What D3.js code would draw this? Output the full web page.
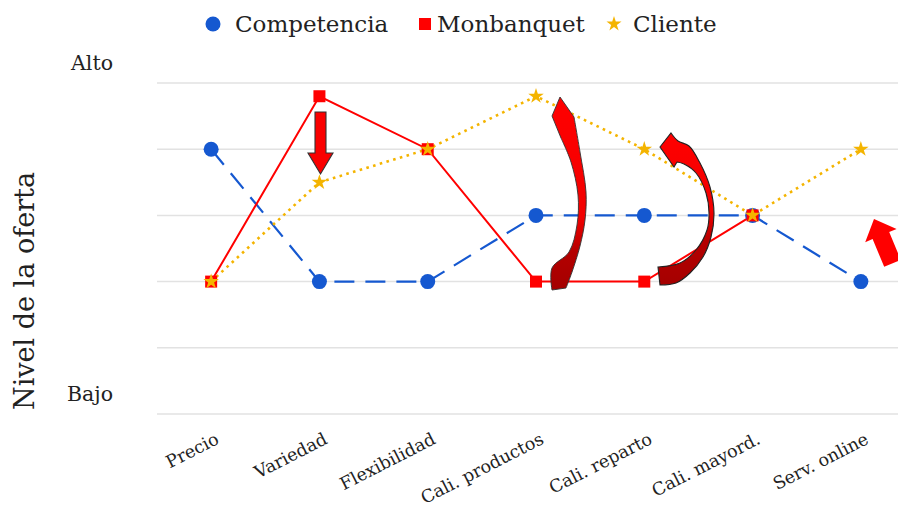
<!DOCTYPE html>
<html>
<head>
<meta charset="utf-8">
<script src="https://cdn.jsdelivr.net/npm/d3@7"></script>
<style>
  html, body { margin: 0; padding: 0; background: #fff; }
  svg { display: block; }
  text { font-family: "DejaVu Serif", serif; fill: #222; }
</style>
</head>
<body>
<svg id="chart" width="898" height="508"></svg>
<script>
// Categories along the x axis
const categories = ["Precio", "Variedad", "Flexibilidad", "Cali. productos", "Cali. reparto", "Cali. mayord.", "Serv. online"];

// Series values on a 0 (Bajo) .. 5 (Alto) scale
const competencia = [4, 2, 2, 3, 3, 3, 2];
const monbanquet  = [2, 4.8, 4, 2, 2, 3, null];
const cliente     = [2, 3.5, 4, 4.8, 4, 3, 4];

// Y tick values and their labels
const yTickValues = [0, 1, 2, 3, 4, 5];
const yTickLabels = ["Bajo", "", "", "", "", "Alto"];

const seriesNames = ["Competencia", "Monbanquet", "Cliente"];

const width = 898, height = 508;
const svg = d3.select("#chart");

const x = d3.scalePoint().domain(categories).range([157, 915]).padding(0.5);
const y = d3.scaleLinear().domain([0, 5]).range([414, 83]);

// Gridlines
svg.append("g").selectAll("line").data(yTickValues).join("line")
  .attr("x1", 157).attr("x2", width)
  .attr("y1", d => y(d)).attr("y2", d => y(d))
  .attr("stroke", "#e2e2e2").attr("stroke-width", 1.5);

// Y tick labels sit just above their gridline
svg.append("g").selectAll("text").data(yTickValues).join("text")
  .attr("x", 113).attr("y", d => y(d) - 13)
  .attr("text-anchor", "end")
  .attr("font-size", 20.5)
  .text((d, i) => yTickLabels[i]);

// Y axis title
svg.append("text")
  .attr("transform", "translate(34,291) rotate(-90)")
  .attr("text-anchor", "middle")
  .attr("font-size", 27)
  .attr("fill", "#111")
  .text("Nivel de la oferta");

// X labels, rotated
svg.append("g").selectAll("text").data(categories).join("text")
  .attr("transform", d => `translate(${x(d) + 9},443) rotate(-27)`)
  .attr("text-anchor", "end")
  .attr("font-size", 17.5)
  .attr("fill", "#333")
  .text(d => d);

const blue = "#1558d0", red = "#ff0000", gold = "#f4b400";

const line = d3.line()
  .defined(d => d.v != null)
  .x(d => x(d.c)).y(d => y(d.v));

function pts(arr) { return arr.map((v, i) => ({ c: categories[i], v })); }

// Competencia: dashed blue with circles
svg.append("path").datum(pts(competencia))
  .attr("d", line).attr("fill", "none")
  .attr("stroke", blue).attr("stroke-width", 2.2)
  .attr("stroke-dasharray", "20,11");

// Monbanquet: solid red with squares
svg.append("path").datum(pts(monbanquet))
  .attr("d", line).attr("fill", "none")
  .attr("stroke", red).attr("stroke-width", 2);

// Cliente: dotted gold with stars
svg.append("path").datum(pts(cliente))
  .attr("d", line).attr("fill", "none")
  .attr("stroke", gold).attr("stroke-width", 2.6)
  .attr("stroke-dasharray", "2.6,4.4");

// Markers (drawn after all lines so they sit on top)
svg.append("g").selectAll("circle").data(pts(competencia)).join("circle")
  .attr("cx", d => x(d.c)).attr("cy", d => y(d.v)).attr("r", 7.5)
  .attr("fill", blue);

svg.append("g").selectAll("rect").data(pts(monbanquet).filter(d => d.v != null)).join("rect")
  .attr("x", d => x(d.c) - 6).attr("y", d => y(d.v) - 6)
  .attr("width", 12).attr("height", 12)
  .attr("fill", red);

const star = d3.symbol().type(d3.symbolStar).size(75);
svg.append("g").selectAll("path").data(pts(cliente)).join("path")
  .attr("transform", d => `translate(${x(d.c)},${y(d.v)})`)
  .attr("d", star)
  .attr("fill", gold);

// Legend
const legend = svg.append("g").attr("font-size", 23);
legend.append("circle").attr("cx", 213).attr("cy", 24).attr("r", 7.5).attr("fill", blue);
legend.append("text").attr("x", 235).attr("y", 32).text(seriesNames[0]);
legend.append("rect").attr("x", 419).attr("y", 18).attr("width", 12).attr("height", 12).attr("fill", red);
legend.append("text").attr("x", 437).attr("y", 32).text(seriesNames[1]);
legend.append("path").attr("transform", "translate(614,24)").attr("d", d3.symbol().type(d3.symbolStar).size(70)).attr("fill", gold);
legend.append("text").attr("x", 633).attr("y", 32).text(seriesNames[2]);

// Annotation arrows
const defs = svg.append("defs");
function shade(id, y0, y1, stops) {
  const g = defs.append("linearGradient").attr("id", id)
    .attr("gradientUnits", "userSpaceOnUse")
    .attr("x1", 0).attr("x2", 0).attr("y1", y0).attr("y2", y1);
  stops.forEach(s => g.append("stop").attr("offset", s[0]).attr("stop-color", s[1]));
}
shade("curl1", 98, 290, [[0, "#ff0000"], [0.62, "#f20000"], [0.8, "#b40000"], [1, "#a40000"]]);
shade("curl2", 132, 288, [[0, "#ff0000"], [0.5, "#f20000"], [0.7, "#b40000"], [1, "#a40000"]]);

const soft = defs.append("filter").attr("id", "soft")
  .attr("x", -0.2).attr("y", -0.2).attr("width", 1.4).attr("height", 1.4);
soft.append("feGaussianBlur").attr("stdDeviation", 0.5);

// Smooth edge through a list of outline points
const edge = d3.line().curve(d3.curveCatmullRom.alpha(0.5));
function curledArrow(head, outer, inner) {
  // head: [tip, barb]; outline goes tip -> outer edge (down) -> inner edge (up) -> barb
  const outline = [head[0]].concat(outer);
  const back = inner;
  const p1 = edge(outer).replace(/^M/, "L");
  const p2 = edge(back).replace(/^M/, "L");
  return `M${head[0][0]},${head[0][1]}${p1}${p2}L${head[1][0]},${head[1][1]}Z`;
}

const arrows = svg.append("g");

// straight arrow pointing down at Variedad
arrows.append("path")
  .attr("d", "M315,112 L326,112 L326,153 L333,153 L320.5,174 L308,153 L315,153 Z")
  .attr("fill", "#fa0000").attr("stroke", "#333").attr("stroke-width", 1.1)
  .attr("filter", "url(#soft)");

// curved arrow rising beside Cali. productos
arrows.append("path")
  .attr("d", curledArrow(
    [[560, 97], [552, 116]],
    [[574, 117], [580, 152], [586, 192], [585, 220], [580, 246], [572, 272], [566, 288]],
    [[552, 290], [552, 268], [569, 252], [577, 225], [578, 195], [571, 162], [561, 138]]))
  .attr("fill", "url(#curl1)").attr("stroke", "#333").attr("stroke-width", 0.9)
  .attr("filter", "url(#soft)");

// curved arrow rising beside Cali. reparto
arrows.append("path")
  .attr("d", curledArrow(
    [[660, 147], [674, 167]],
    [[671, 133], [678, 141], [689, 146], [700, 163], [710, 187], [714, 213], [711, 237], [703, 257], [690, 273], [676, 283], [660, 285]],
    [[658, 267], [680, 263], [696, 250], [707, 230], [709, 213], [706, 193], [696, 173], [684, 164], [677, 162]]))
  .attr("fill", "url(#curl2)").attr("stroke", "#222").attr("stroke-width", 1.1)
  .attr("filter", "url(#soft)");

// short arrow at Serv. online
arrows.append("path")
  .attr("d", "M874,219 L896.6,229 L889.2,232.1 L900.8,259.8 L884.2,266.8 L872.6,239.1 L865.2,242.2 Z")
  .attr("fill", "#ff0000").attr("filter", "url(#soft)");
</script>
</body>
</html>
